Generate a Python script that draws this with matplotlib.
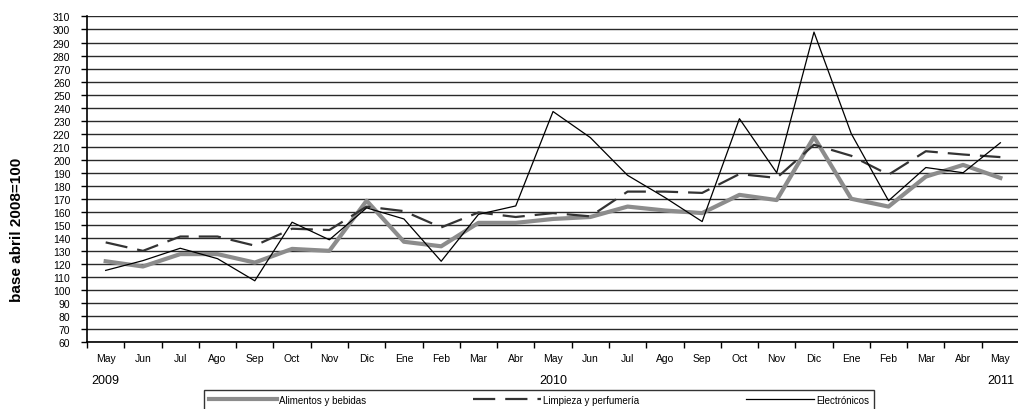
import matplotlib
matplotlib.use("Agg")
import matplotlib.pyplot as plt
import numpy as np

# Datos (base abril 2008=100)
meses = ["May", "Jun", "Jul", "Ago", "Sep", "Oct", "Nov", "Dic", "Ene", "Feb", "Mar", "Abr",
         "May", "Jun", "Jul", "Ago", "Sep", "Oct", "Nov", "Dic", "Ene", "Feb", "Mar", "Abr", "May"]
anios = ["2009", "2010", "2011"]
anios_pos = [0, 12, 24]

alimentos = [122, 118, 127.5, 127.5, 121, 131.5, 130, 168.5, 137, 133.5, 151.5, 151.5,
             154.5, 156, 164, 161, 159, 173, 169, 217.5, 170, 164, 187, 196, 186]
limpieza = [136.5, 130, 141, 141, 134, 147, 146, 164, 160.5, 148, 159.5, 156,
            159, 156.5, 175.5, 175.5, 174.5, 189, 186, 211.5, 203, 188.5, 206.5, 204, 202]
electronicos = [115, 122.5, 132, 124, 107, 152, 138.5, 163, 154.5, 122, 158, 164.5,
                237, 217, 188, 171, 152.5, 231.5, 190, 298, 220, 168.5, 194, 190, 213]

plt.rcParams['font.family'] = ['Liberation Sans', 'DejaVu Sans']

fig = plt.figure(figsize=(10.18, 4.10), dpi=100)
ax = fig.add_axes([0.0855, 0.1634, 0.9155, 0.794])

x = np.arange(len(meses))

# grilla horizontal
for v in range(60, 311, 10):
    ax.axhline(v, color='#2a2a2a', linewidth=1.0, zorder=1)

ax.plot(x, alimentos, color='#8c8c8c', linewidth=3.0, label="Alimentos y bebidas", zorder=3)
ax.plot(x, limpieza, color='#333333', linewidth=1.6, dashes=(10, 4.5),
        label="Limpieza y perfumería", zorder=4)
ax.plot(x, electronicos, color='#000000', linewidth=0.9, label="Electrónicos", zorder=5)

ax.set_xlim(-0.5, len(meses) - 0.5)
ax.set_ylim(60, 310)
ax.set_yticks(np.arange(60, 311, 10))
ax.set_yticklabels([str(v) for v in range(60, 311, 10)], fontsize=7.5)
ax.tick_params(axis='y', length=4, width=1, pad=8)

ax.set_xticks(x)
ax.set_xticklabels(meses, fontsize=7.5)
ax.set_xticks(np.arange(-0.5, len(meses), 1), minor=True)
ax.tick_params(axis='x', which='major', length=0, pad=8)
ax.tick_params(axis='x', which='minor', length=4, width=1)

for s in ['top', 'right']:
    ax.spines[s].set_visible(False)
ax.spines['left'].set_linewidth(1.2)
ax.spines['bottom'].set_linewidth(1.2)

# años
for pos, a in zip(anios_pos, anios):
    ax.text(pos, -0.117, a, transform=ax.get_xaxis_transform(),
            ha='center', va='center', fontsize=9)

fig.text(0.017, 0.44, "base abril 2008=100", rotation=90, fontsize=11,
         fontweight='bold', ha='center', va='center')

# leyenda (borde inferior queda fuera de la figura, como en el original)
leg_h = 0.06
leg = fig.legend(loc='upper left',
                 bbox_to_anchor=(204 / 1018, 1 - 391 / 410 - leg_h, 670 / 1018, leg_h),
                 mode='expand', ncol=3, fontsize=7, frameon=True, fancybox=False,
                 handlelength=7, handletextpad=0.2, borderaxespad=0, borderpad=0.5)
leg.get_frame().set_edgecolor('black')
leg.get_frame().set_linewidth(1.0)

fig.savefig("out.png", dpi=100)
